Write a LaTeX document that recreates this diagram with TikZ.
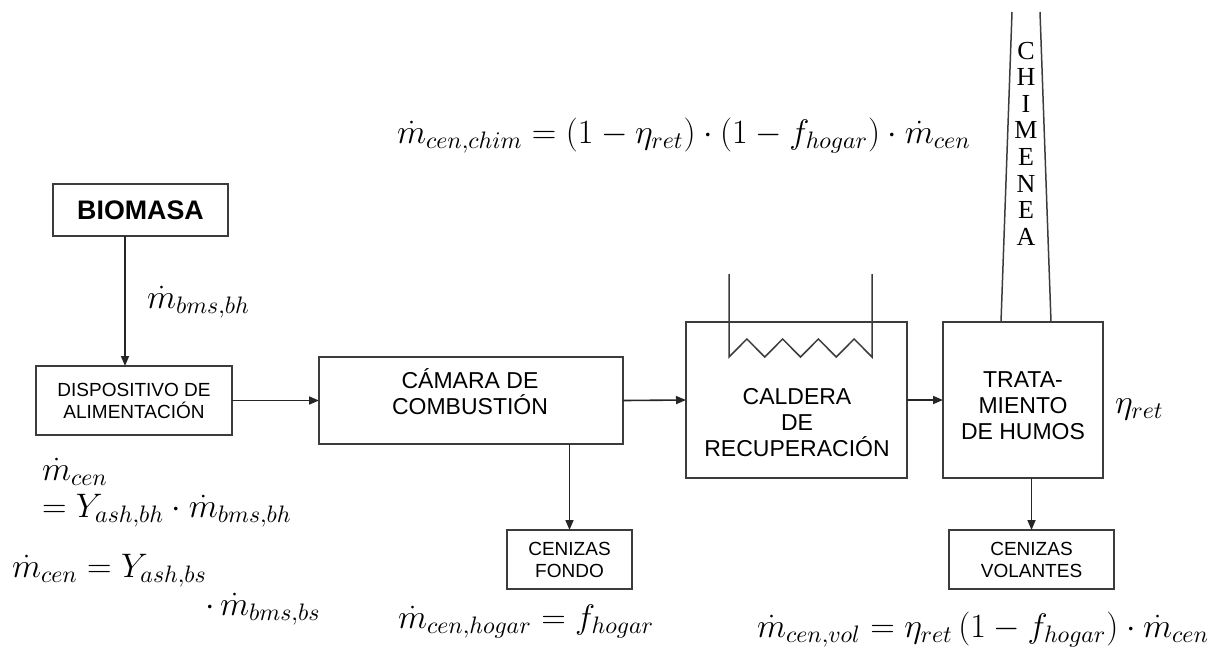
\RequirePackage{fix-cm}
\documentclass[tikz,border=0pt]{standalone}
\usepackage{fontspec}
\setmainfont{Liberation Sans}
\newfontfamily\chimfont{Liberation Serif}
\usetikzlibrary{arrows.meta,positioning,calc}
\definecolor{BoxLine}{HTML}{3C3C3C}

\begin{document}
\begin{tikzpicture}[
  x=0.5pt,y=-0.5pt,
  every node/.style={inner sep=0pt,outer sep=0pt},
  box/.style={draw=BoxLine,line width=0.75pt,fill=white,align=center},
  bigtxt/.style={align=center,font=\fontsize{11.5}{13}\selectfont},
  smalltxt/.style={font=\fontsize{9.5}{11}\selectfont},
  eqn/.style={anchor=base west,font=\fontsize{17}{20}\selectfont},
  flow/.style={-{Triangle[length=5pt,width=4pt]},line width=0.8pt,black!85},
  pipe/.style={line width=0.75pt,BoxLine}
]
\useasboundingbox (0,0) rectangle (1225,650);

% boxes
\node[box,minimum width=87.5pt,minimum height=26pt,
  font=\fontsize{13.4}{15}\selectfont\bfseries] (bio) at (140.5,210) {BIOMASA};
\node[box,smalltxt,minimum width=98pt,minimum height=34.5pt] (disp) at (134,400.5)
  {DISPOSITIVO DE\\ALIMENTACIÓN};
\node[box,minimum width=152pt,minimum height=43.5pt] (cam) at (471,400.5) {};
\node[bigtxt] (camtxt) at (470,392) {CÁMARA DE\\COMBUSTIÓN};
\node[box,smalltxt,minimum width=62.5pt,minimum height=29.5pt] (fondo) at (569.5,559.5)
  {CENIZAS\\FONDO};
\node[box,minimum width=110.5pt,minimum height=78pt] (cal) at (796.5,400) {};
\node[bigtxt] (caltxt) at (797,423) {CALDERA\\DE\\RECUPERACIÓN};
\node[box,minimum width=80pt,minimum height=78pt] (trat) at (1023,400) {};
\node[bigtxt] (trattxt) at (1023,406) {TRATA-\\MIENTO\\DE HUMOS};
\node[box,smalltxt,minimum width=82.5pt,minimum height=29.5pt] (vol) at (1031.5,559.5)
  {CENIZAS\\VOLANTES};

% heat exchanger in the boiler
\draw[pipe] (729,274) -- (729,357)
  \foreach \i in {1,...,8} { -- ({729+\i*17.875},{357-18*mod(\i,2)}) }
  -- (872,274);

% chimney
\draw[pipe] (1001,322) -- (1012,12);
\draw[pipe] (1051,322) -- (1040,12);
\node[align=center,font=\chimfont\fontsize{13}{13.3}\selectfont] (chim) at (1026,143.5)
  {C\\H\\I\\M\\E\\N\\E\\A};

% flows
\draw[flow] ([xshift=-7.75pt]bio.south) -- ([xshift=-7.75pt]bio.south |- disp.north);
\draw[flow] (disp.east) -- (cam.west);
\draw[flow] (cam.east) -- (cal.west);
\draw[flow] (cal.east) -- (trat.west);
\draw[flow] (fondo.north |- cam.south) -- (fondo.north);
\draw[flow] (vol.north |- trat.south) -- (vol.north);

% equations
\node[eqn] (mbh) at (147,308) {$\dot m_{bms,bh}$};
\node[eqn] (mchim) at (397,143)
  {$\dot m_{cen,chim}=(1-\eta_{ret})\cdot(1-f_{hogar})\cdot\dot m_{cen}$};
\node[eqn] (mcena) at (42,480) {$\dot m_{cen}$};
\node[eqn] (mcenb) at (42,517) {$=Y_{ash,bh}\cdot\dot m_{bms,bh}$};
\node[eqn] (mcenc) at (12,577) {$\dot m_{cen}=Y_{ash,bs}$};
\node[eqn] (mcend) at (205,615) {$\cdot\,\dot m_{bms,bs}$};
\node[eqn] (mhog) at (398,628) {$\dot m_{cen,hogar}=f_{hogar}$};
\node[eqn] (mvol) at (757,637)
  {$\dot m_{cen,vol}=\eta_{ret}\,(1-f_{hogar})\cdot\dot m_{cen}$};
\node[eqn] (eta) at (1115,413) {$\eta_{ret}$};
\end{tikzpicture}
\end{document}
